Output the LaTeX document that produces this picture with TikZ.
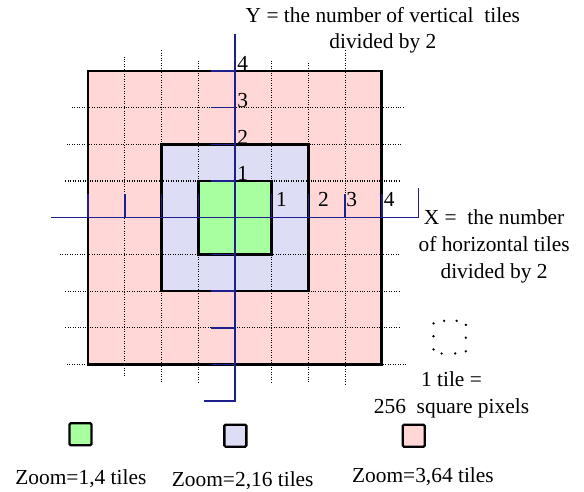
\documentclass[tikz,border=0pt]{standalone}
\usepackage{fontspec}
\setmainfont{Liberation Serif}
\usepackage{tikz}
\usetikzlibrary{positioning}
\definecolor{zoomone}{RGB}{168,255,160}
\definecolor{zoomtwo}{RGB}{221,221,245}
\definecolor{zoomthree}{RGB}{255,215,215}
\definecolor{axisblue}{RGB}{30,30,140}
\tikzset{
    tilebox/.style={
        draw=black,
        line width=2pt,
        inner sep=0pt
    },
    gridline/.style={
        line width=0.8pt,
        dash pattern=on 0.7pt off 1.2pt
    },
    axisline/.style={
        draw=axisblue,
        line width=1.2pt
    },
    ticklabel/.style={
        inner sep=0pt,
        font=\fontsize{16.6}{20}\selectfont
    },
    plaintext/.style={
        align=center,
        inner sep=0pt,
        font=\fontsize{16.6}{20.8}\selectfont
    },
    legendbox/.style={
        draw=black,
        line width=1.8pt,
        rounded corners=1pt,
        minimum size=0.6cm,
        inner sep=0pt
    }
}

\begin{document}
\begin{tikzpicture}
    \useasboundingbox (-6.403,-7.447) rectangle (9.510,5.932);
    % nested zoom levels
    \node[tilebox, fill=zoomthree, minimum size=8cm] (level3) at (0,0) {};
    \node[tilebox, fill=zoomtwo, minimum size=4cm] (level2) at (0,0) {};
    \node[tilebox, fill=zoomone, minimum size=2cm] (level1) at (0,0) {};

    % dotted tile grid
    \foreach \x/\t/\b in {-3/4.39/-4.34, -2/4.56/-4.52, -1/4.28/-4.5, 1/4.28/-4.5, 2/4.22/-4.5, 3/4.56/-4.56}
        \draw[gridline] (\x,\t) -- (\x,\b);
    \foreach \y/\l/\r in {3/-4.44/4.62, 2/-4.58/4.55, 1/-4.62/4.5, -1/-4.77/4.46, -2/-4.62/4.5, -3/-4.62/4.5, -4/-4.58/4.68}
        \draw[gridline] (\l,\y) -- (\r,\y);

    % axes with ticks
    \draw[axisline] (-5,0) -- (5,0) -- (5,0.8);
    \draw[axisline] (0,5) -- (0,-5) -- (-0.85,-5);
    \foreach \k in {-4,-3,-2,-1,1,2,3,4} {
        \draw[axisline] (\k,0) -- (\k,0.65);
        \draw[axisline] (0,\k) -- (-0.64,\k);
    }
    \foreach \k in {1,...,4}
        \node[ticklabel, anchor=south west] (ylab\k) at (0.06,\k) {\k};
    \foreach \k/\p in {1/1.27, 2/2.41, 3/3.18, 4/4.2}
        \node[ticklabel] (xlab\k) at (\p,0.5) {\k};

    \node[plaintext, anchor=north] (ytext) at (4.03,5.75) {Y = the number of vertical~ tiles\\divided by 2};
    \node[plaintext, anchor=north] (xtext) at (7.06,0.22) {X =~ the number\\of horizontal tiles\\divided by 2};

    % one tile
    \coordinate (tiledots) at (5.85,-3.26);
    \foreach \dx/\dy in {-0.44/0.38, -0.15/0.45, 0.19/0.45, 0.44/0.34, -0.44/0.03, 0.44/-0.01, -0.44/-0.33, -0.22/-0.44, 0.15/-0.44, 0.44/-0.38}
        \fill[shift={(tiledots)}] (\dx,\dy) circle (0.036);
    \node[plaintext, anchor=north] (tiletext) at (5.9,-4.18) {1 tile =\\256~ square pixels};

    % legend
    \node[legendbox, fill=zoomone] (leg1) at (-4.21,-5.90) {};
    \node[legendbox, fill=zoomtwo] (leg2) at (0.01,-5.94) {};
    \node[legendbox, fill=zoomthree] (leg3) at (4.87,-5.94) {};
    \node[plaintext, below=1.03 of leg1, anchor=base, xshift=0.01cm] (leg1text) {Zoom=1,4 tiles};
    \node[plaintext, below=1.06 of leg2, anchor=base, xshift=0.2cm] (leg2text) {Zoom=2,16 tiles};
    \node[plaintext, below=0.95 of leg3, anchor=base, xshift=0.25cm] (leg3text) {Zoom=3,64 tiles};
\end{tikzpicture}
\end{document}
